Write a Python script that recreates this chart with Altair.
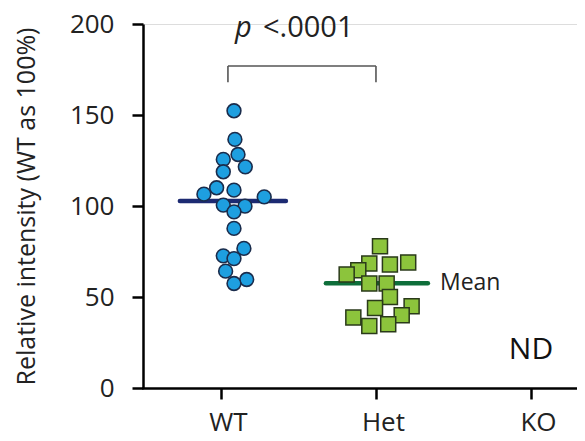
import altair as alt
import pandas as pd

# ---- data ----
categories = ["WT", "Het", "KO"]
category_pos = [0, 1, 2]

wt_x = [0.084, 0.090, 0.110, 0.015, 0.157, 0.015, -0.028, -0.110, 0.084, 0.279,
        0.015, 0.155, 0.084, 0.084, 0.148, 0.015, 0.084, 0.030, 0.166, 0.084]
wt_y = [152.3, 136.6, 128.3, 125.6, 121.5, 118.8, 110.0, 106.5, 108.7, 105.0,
        100.5, 99.9, 96.8, 87.7, 76.7, 72.6, 71.1, 64.2, 59.6, 57.4]

het_x = [1.026, 0.957, 1.090, 1.208, 0.886, 0.811, 0.957, 1.069, 1.090, 0.994,
         1.230, 0.854, 1.166, 0.957, 1.079]
het_y = [77.9, 68.4, 67.9, 69.0, 64.7, 62.4, 57.4, 57.4, 50.0, 44.0,
         44.9, 38.7, 40.0, 34.1, 35.0]

mean_group = ["WT", "Het"]
mean_x1 = [-0.265, 0.677]
mean_x2 = [0.419, 1.335]
mean_y = [102.7, 57.6]

FONT = "Open Sans"

wt = pd.DataFrame({"x": wt_x, "y": wt_y})
het = pd.DataFrame({"x": het_x, "y": het_y})
means = pd.DataFrame({"g": mean_group, "x1": mean_x1, "x2": mean_x2, "y": mean_y})

label_expr = "datum.value == 0 ? 'WT' : datum.value == 1 ? 'Het' : 'KO'"

xs = alt.Scale(domain=[-0.503, 2.297], nice=False, zero=False)
ys = alt.Scale(domain=[0, 200], nice=False)

x_axis = alt.Axis(values=category_pos, labelExpr=label_expr, title=None, grid=False,
                  domainColor="black", domainWidth=2.5, tickColor="black", tickWidth=2.5,
                  tickSize=11, labelFontSize=26, labelFont=FONT, labelColor="#222222",
                  labelPadding=10, labelOffset=7, domainCap="square")
y_axis = alt.Axis(values=[0, 50, 100, 150, 200], title="Relative intensity (WT as 100%)",
                  grid=False, domainColor="black", domainWidth=2.5, tickColor="black",
                  tickWidth=2.5, tickSize=11, labelFontSize=26, labelFont=FONT,
                  labelColor="#222222", labelPadding=18, titleFont=FONT, titleFontSize=25,
                  titleFontWeight="normal", titleColor="#222222", titlePadding=30)

base_axes = alt.Chart(pd.DataFrame({"x": [0], "y": [0]})).mark_point(opacity=0).encode(
    x=alt.X("x:Q", scale=xs, axis=x_axis),
    y=alt.Y("y:Q", scale=ys, axis=y_axis),
)

mean_lines = alt.Chart(means).mark_rule(strokeWidth=4.5, strokeCap="round").encode(
    x=alt.X("x1:Q", scale=xs),
    x2="x2:Q",
    y=alt.Y("y:Q", scale=ys),
    color=alt.Color("g:N", scale=alt.Scale(domain=["WT", "Het"], range=["#1c2a72", "#0e6e3a"]), legend=None),
)

wt_pts = alt.Chart(wt).mark_point(shape="circle", filled=True, size=190, fill="#1e9fe0",
                                  stroke="#1a2c4c", strokeWidth=1.6, opacity=1).encode(
    x=alt.X("x:Q", scale=xs), y=alt.Y("y:Q", scale=ys))

het_pts = alt.Chart(het).mark_point(shape="square", filled=True, size=225, fill="#8cc43c",
                                    stroke="#2a3a1a", strokeWidth=1.5, opacity=1).encode(
    x=alt.X("x:Q", scale=xs), y=alt.Y("y:Q", scale=ys))

mean_text = alt.Chart(pd.DataFrame({"x": [1.413], "y": [57.6], "t": ["Mean"]})).mark_text(
    align="left", baseline="middle", font=FONT, fontSize=23, color="#222222").encode(
    x=alt.X("x:Q", scale=xs), y=alt.Y("y:Q", scale=ys), text="t:N")

nd_text = alt.Chart(pd.DataFrame({"x": [2.0], "y": [21.0], "t": ["ND"]})).mark_text(
    align="center", baseline="middle", font=FONT, fontSize=30, color="#111111").encode(
    x=alt.X("x:Q", scale=xs), y=alt.Y("y:Q", scale=ys), text="t:N")

p_text = alt.Chart(pd.DataFrame({"x": [0.09], "y": [192.8], "t": ["p"]})).mark_text(
    align="left", baseline="alphabetic", font=FONT, fontSize=29, fontStyle="italic",
    color="#222222").encode(x=alt.X("x:Q", scale=xs), y=alt.Y("y:Q", scale=ys), text="t:N")

pv_text = alt.Chart(pd.DataFrame({"x": [0.271], "y": [192.8], "t": ["<.0001"]})).mark_text(
    align="left", baseline="alphabetic", font=FONT, fontSize=29, color="#222222").encode(
    x=alt.X("x:Q", scale=xs), y=alt.Y("y:Q", scale=ys), text="t:N")

bracket_h = alt.Chart(pd.DataFrame({"x1": [0.045], "x2": [1.0], "y": [176.9]})).mark_rule(
    color="#555555", strokeWidth=1.6).encode(
    x=alt.X("x1:Q", scale=xs), x2="x2:Q", y=alt.Y("y:Q", scale=ys))

bracket_v = alt.Chart(pd.DataFrame({"x": [0.045, 1.0], "y1": [176.9, 176.9], "y2": [168.0, 168.0]})).mark_rule(
    color="#555555", strokeWidth=1.6).encode(
    x=alt.X("x:Q", scale=xs), y=alt.Y("y1:Q", scale=ys), y2="y2:Q")

chart = alt.layer(base_axes, mean_lines, wt_pts, het_pts, mean_text, nd_text,
                  p_text, pv_text, bracket_h, bracket_v).properties(
    width=434, height=364,
    autosize=alt.AutoSizeParams(type="none"),
    padding={"left": 135, "top": 16, "right": 0, "bottom": 52},
).configure_view(stroke=None).configure(background="white")

chart.save("out.html", embed_options={"renderer": "svg", "actions": False})
